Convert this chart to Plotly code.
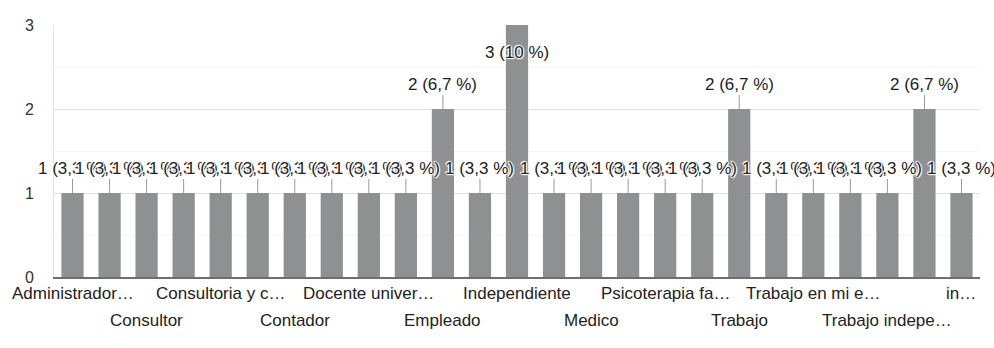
import plotly.graph_objects as go

# Data (25 bars, total 30 responses); only every other category label is readable
values = [1, 1, 1, 1, 1, 1, 1, 1, 1, 1, 2, 1, 3, 1, 1, 1, 1, 1, 2, 1, 1, 1, 1, 2, 1]
shown_positions = [0, 2, 4, 6, 8, 10, 12, 14, 16, 18, 20, 22, 24]
shown_labels = ["Administrador…", "Consultor", "Consultoria y c…", "Contador",
                "Docente univer…", "Empleado", "Independiente", "Medico",
                "Psicoterapia fa…", "Trabajo", "Trabajo en mi e…",
                "Trabajo indepe…", "in…"]
y_ticks = [0, 1, 2, 3]

total = sum(values)
x = list(range(len(values)))
FONT = "Arial, Liberation Sans, sans-serif"
HALO = "white 1px 0px 1px, white -1px 0px 1px, white 0px 1px 1px, white 0px -1px 1px, white 1px 1px 1px, white -1px -1px 1px"


def pct_label(v):
    p = round(v / total * 100, 1)
    s = f"{p:.1f}".rstrip("0").rstrip(".").replace(".", ",")
    return f"{v} ({s} %)"


fig = go.Figure(go.Bar(x=x, y=values, marker=dict(color="#8e9091", line=dict(width=0)),
                       hoverinfo="skip"))

ymax = max(y_ticks)
annotations = []
for i, v in enumerate(values):
    if v >= ymax:
        annotations.append(dict(x=i, y=v, xref="x", yref="y", text=pct_label(v),
                                showarrow=False, yshift=-27,
                                font=dict(family=FONT, size=17, color="#222", shadow=HALO)))
    else:
        annotations.append(dict(x=i, y=v, xref="x", yref="y", text=pct_label(v),
                                showarrow=True, arrowhead=0, arrowwidth=1,
                                arrowcolor="#9a9a9a", ax=0, ay=-25, standoff=0,
                                font=dict(family=FONT, size=17, color="#222", shadow=HALO)))

for k, (p, lab) in enumerate(zip(shown_positions, shown_labels)):
    annotations.append(dict(x=p, y=0, xref="x", yref="y", text=lab, showarrow=False,
                            yanchor="middle", yshift=-16 if k % 2 == 0 else -43,
                            font=dict(family=FONT, size=17, color="#222")))

fig.update_layout(
    width=994, height=348,
    margin=dict(l=54, r=14, t=25, b=71),
    paper_bgcolor="white", plot_bgcolor="white",
    showlegend=False, bargap=0.4,
    annotations=annotations,
    xaxis=dict(range=[-0.5, len(values) - 0.5], showticklabels=False, ticks="",
               showgrid=False, zeroline=False, showline=True,
               linecolor="#6e6e6e", linewidth=1.5),
    yaxis=dict(range=[0, ymax], tickvals=y_ticks, showgrid=True, gridcolor="#e3e3e3",
               gridwidth=1, zeroline=False, showline=True, linecolor="#e3e3e3",
               ticks="", ticklabelstandoff=16,
               tickfont=dict(family=FONT, size=16, color="#333"),
               minor=dict(dtick=0.5, showgrid=True, gridcolor="#f5f5f5", gridwidth=1)),
)

fig.write_html("out.html")
